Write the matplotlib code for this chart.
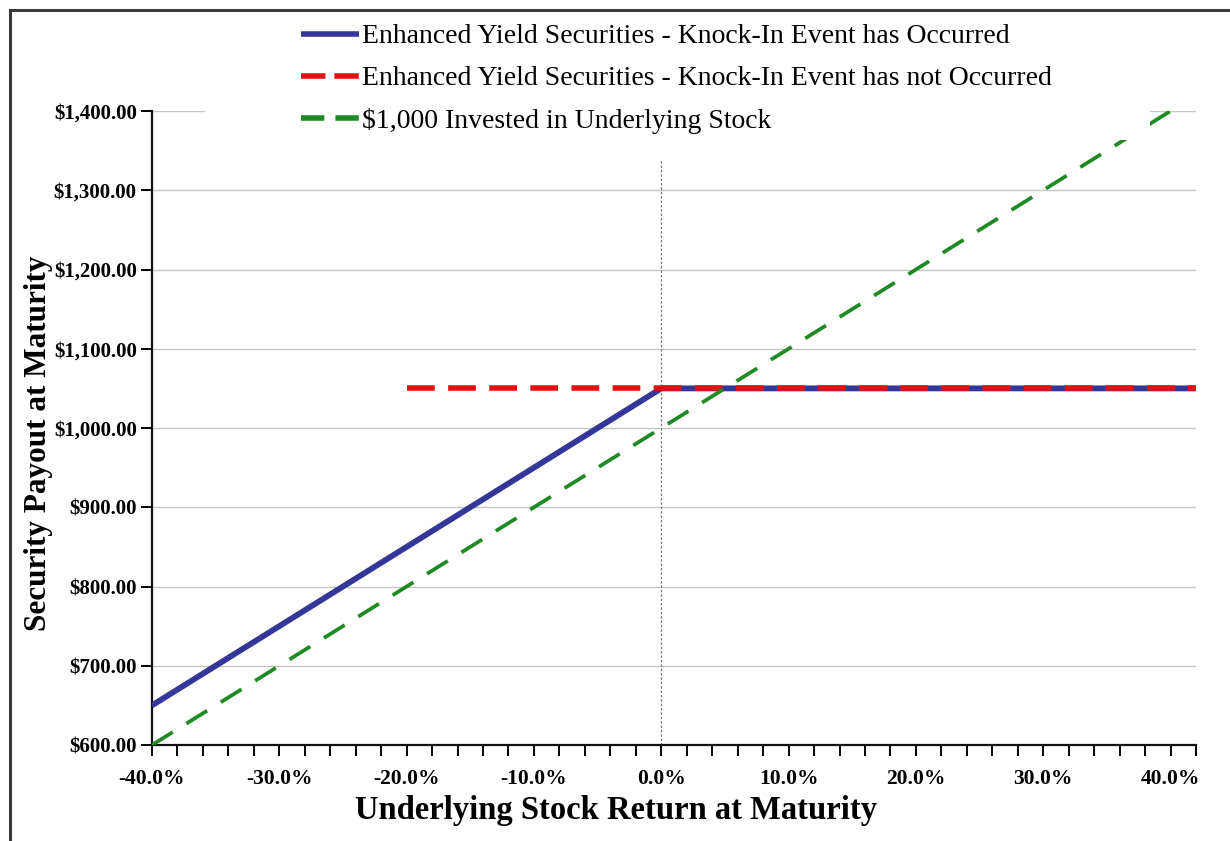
import matplotlib
matplotlib.use("Agg")
import matplotlib.pyplot as plt
from matplotlib.lines import Line2D
from matplotlib.patches import Rectangle
from matplotlib.ticker import MultipleLocator, FuncFormatter

plt.rcParams["font.family"] = ["Liberation Serif", "DejaVu Serif"]

# Payoff profile data (stock return in %, payout in $)
knock_in_returns = [-40, 0, 42]
knock_in_payout = [650, 1050, 1050]

no_knock_in_returns = [-20, 42]
no_knock_in_payout = [1050, 1050]

stock_returns = [-40, 42]
stock_payout = [600, 1420]

ref_line_x = [0, 0]
ref_line_y = [600, 1340]

series_labels = [
    "Enhanced Yield Securities - Knock-In Event has Occurred",
    "Enhanced Yield Securities - Knock-In Event has not Occurred",
    "$1,000 Invested in Underlying Stock",
]

W, H = 1230, 841
fig = plt.figure(figsize=(W / 100, H / 100), dpi=100)
fig.patch.set_facecolor("white")

ax_l, ax_r, ax_t, ax_b = 152, 1196, 111, 745
ax = fig.add_axes([ax_l / W, 1 - ax_b / H, (ax_r - ax_l) / W, (ax_b - ax_t) / H])

blue = "#35369a"
red = "#e31212"
green = "#1f8a24"

ax.plot(ref_line_x, ref_line_y, color="#7a7a7a", lw=0.9, dashes=(2, 1.5), zorder=1)
ax.plot(knock_in_returns, knock_in_payout, color=blue, lw=4.2,
        solid_capstyle="butt", zorder=3)
ax.plot(no_knock_in_returns, no_knock_in_payout, color=red, lw=4.0,
        dashes=(5.0, 2.4), zorder=4)
ax.plot(stock_returns, stock_payout, color=green, lw=2.7,
        dashes=(6.5, 4.3), zorder=5)

ax.set_xlim(-40, 42)
ax.set_ylim(600, 1400)

ax.yaxis.set_major_locator(MultipleLocator(100))
ax.yaxis.set_major_formatter(FuncFormatter(lambda v, p: f"${v:,.2f}"))
ax.xaxis.set_major_locator(MultipleLocator(10))
ax.xaxis.set_minor_locator(MultipleLocator(2))
ax.xaxis.set_major_formatter(FuncFormatter(lambda v, p: f"{v:.1f}%"))

ax.grid(axis="y", color="#c4c4c4", lw=1.0, zorder=0)
ax.set_axisbelow(True)

for s in ("top", "right"):
    ax.spines[s].set_visible(False)
for s in ("left", "bottom"):
    ax.spines[s].set_linewidth(1.6)
    ax.spines[s].set_color("#111111")

ax.tick_params(axis="y", direction="out", length=8, width=1.4, pad=3,
               labelsize=15)
ax.tick_params(axis="x", which="both", direction="out", length=8, width=1.4,
               pad=9, labelsize=15.5)
for lab in ax.get_xticklabels() + ax.get_yticklabels():
    lab.set_fontweight("bold")

fig.text(616 / W, 1 - 810 / H, "Underlying Stock Return at Maturity",
         fontsize=23.5, fontweight="bold", ha="center", va="center")
fig.text(39 / W, 1 - 443 / H, "Security Payout at Maturity", rotation=90,
         fontsize=22.5, fontweight="bold", ha="center", va="center")

# white backing behind the legend area
ax.add_patch(Rectangle((205 / W, 1 - 140 / H), (1150 - 205) / W, (140 - 12) / H,
                       transform=fig.transFigure, facecolor="white",
                       edgecolor="none", clip_on=False, zorder=6))

handles = [
    Line2D([], [], color=blue, lw=4.0, solid_capstyle="butt"),
    Line2D([], [], color=red, lw=4.0, dashes=(4.4, 1.6)),
    Line2D([], [], color=green, lw=4.0, dashes=(4.2, 2.0)),
]
leg = ax.legend(handles=handles, labels=series_labels, loc="upper left",
                bbox_to_anchor=(287 / W, 1 - 10 / H),
                bbox_transform=fig.transFigure, frameon=False, fontsize=20,
                handlelength=2.1, handletextpad=0.1, labelspacing=0.6,
                borderpad=0)
leg.set_zorder(7)

# outer frame lines (top and left)
fig.add_artist(Line2D([10 / W, 1.0], [1 - 10 / H, 1 - 10 / H],
                      transform=fig.transFigure, color="#3a3a3a", lw=2.2))
fig.add_artist(Line2D([10 / W, 10 / W], [0.0, 1 - 10 / H],
                      transform=fig.transFigure, color="#3a3a3a", lw=2.2))

fig.savefig("out.png", dpi=100, facecolor="white")
